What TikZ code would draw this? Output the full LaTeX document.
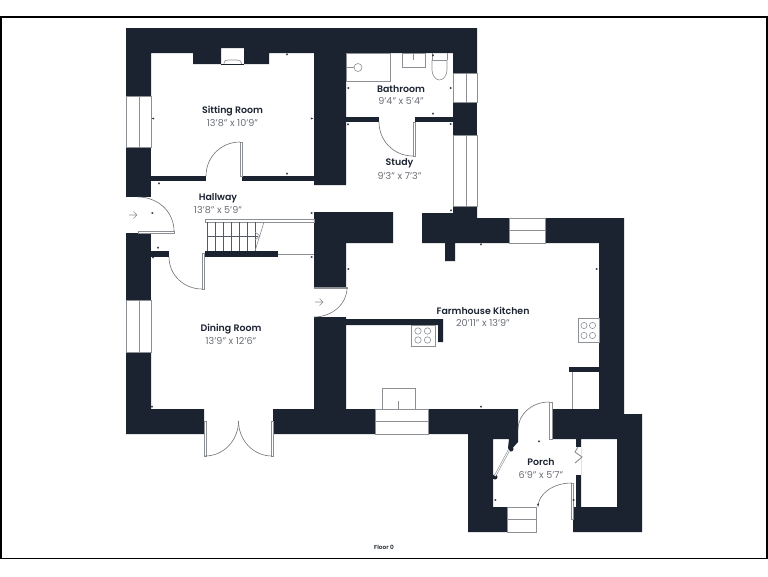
\documentclass[tikz,border=0pt]{standalone}
\usepackage{fontspec}
\setmainfont[BoldFont={Poppins SemiBold}]{Poppins}
\definecolor{wallc}{HTML}{1B2330}
\definecolor{linec}{HTML}{8C8F93}
\definecolor{dimc}{HTML}{6A6E75}
\tikzset{
  wall/.style={fill=wallc,draw=none},
  thin line/.style={draw=linec,line width=0.6pt},
  leaf/.style={draw=linec,fill=white,line width=0.6pt},
  swing/.style={draw=linec!80!black,line width=0.6pt},
  fixture/.style={draw=linec,line width=0.9pt,fill=white},
  roomname/.style={font=\fontsize{9.4}{11}\selectfont\bfseries,text=wallc,inner sep=0pt},
  roomdim/.style={font=\fontsize{9.6}{11}\selectfont,text=dimc,inner sep=0pt},
  tick/.style={fill=wallc,draw=none}
}
\begin{document}
\begin{tikzpicture}[x=1pt,y=-1pt]
\useasboundingbox (0,0) rectangle (768,576);
\fill[white] (0,0) rectangle (768,576);
% frame
\draw[black,line width=1.8pt] (0.9,17) rectangle (767.1,558.5);
% walls
\fill[wall] (126,28) -- (477,28) -- (477,73) -- (453,73) -- (453,53) -- (346,53) -- (346,185) -- (314,185) -- (314,53) -- (269,53) -- (269,64) -- (244,64) -- (244,48) -- (221,48) -- (221,64) -- (193,64) -- (193,53) -- (151,53) -- (151,96) -- (126,96) -- cycle;
\fill[wall] (126,147) rectangle (151,197);
\fill[wall] (151,176) rectangle (206,181);
\fill[wall] (242,176) rectangle (314,181);
\fill[wall] (346,117) rectangle (379,122);
\fill[wall] (415,117) rectangle (453,122);
\fill[wall] (453,102) rectangle (477,135);
\fill[wall] (126,233) rectangle (151,300);
\fill[wall] (151,251) rectangle (169,257);
\fill[wall] (205,251) rectangle (278,257);
\fill[wall] (126,352) -- (151,352) -- (151,409) -- (204,409) -- (204,434) -- (126,434) -- cycle;
\fill[wall] (314,212) -- (393,212) -- (393,243) -- (346,243) -- (346,287) -- (314,287) -- cycle;
\fill[wall] (273,409) -- (314,409) -- (314,317) -- (346,317) -- (346,409) -- (375,409) -- (375,434) -- (273,434) -- cycle;
\fill[wall] (422,213) -- (453,213) -- (453,206) -- (477,206) -- (477,218) -- (509,218) -- (509,243) -- (455,243) -- (455,261) -- (445,261) -- (445,243) -- (422,243) -- cycle;
\fill[wall] (545,218) -- (624,218) -- (624,414) -- (642,414) -- (642,532) -- (573,532) -- (573,507) -- (617,507) -- (617,439) -- (581,439) -- (581,507) -- (576,507) -- (576,475) -- (581,475) -- (581,439) -- (553,439) -- (553,409) -- (599,409) -- (599,243) -- (545,243) -- cycle;
\fill[wall] (576,439) rectangle (581,447);
\fill[wall] (428,409) -- (518,409) -- (518,439) -- (518,442) -- (510,451) -- (508,448) -- (509,439) -- (493,439) -- (493,507) -- (507,507) -- (507,532) -- (468,532) -- (468,434) -- (428,434) -- cycle;
\fill[wall] (346,319) -- (443,319) -- (443,342) -- (438,342) -- (438,325) -- (346,325) -- cycle;
\fill[wall] (569,367) rectangle (599,372);
\fill[wall] (511,449) circle (2.5);
\fill[wall] (495,477) circle (2.5);
% windows
\draw[thin line] (126,96) rectangle (151,147) (139,96) -- (139,147);
\draw[thin line] (126,300) rectangle (151,352) (139,300) -- (139,352);
\draw[thin line] (453,73) rectangle (477,102) (466,73) -- (466,102);
\draw[thin line] (453,135) rectangle (477,206) (466,135) -- (466,206);
\draw[thin line] (509,218) rectangle (545,243) (509,230.5) -- (545,230.5);
\draw[thin line] (375,409) rectangle (428,434) (375,421.5) -- (428,421.5);
\draw[thin line] (507,507) rectangle (536,532) (507,519.5) -- (536,519.5);
% doors
\draw[leaf] (240,142) rectangle (242,176);
\draw[swing] (206,176) .. controls (206,157) and (221,142) .. (240,142);
\draw[leaf] (413,122) rectangle (415,156);
\draw[swing] (379,122) .. controls (379,141) and (394,156) .. (413,156);
\draw[leaf] (138,231) rectangle (174,233);
\draw[swing] (138,197) .. controls (158,197) and (174,212) .. (174,231);
\draw[leaf] (202,253) rectangle (204,289);
\draw[swing] (169,257) .. controls (169,275) and (184,289) .. (202,289);
\draw[leaf] (314,287) rectangle (347,288);
\draw[swing] (347,288) .. controls (347,304) and (332,317) .. (314,317);
\draw[leaf] (204,421) rectangle (206,456);
\draw[leaf] (271,421) rectangle (273,456);
\draw[swing] (205,456) .. controls (224,456) and (238.5,440) .. (238.5,421);
\draw[swing] (272,456) .. controls (253,456) and (238.5,440) .. (238.5,421);
\draw[leaf] (549,402) rectangle (552,439);
\draw[swing] (549,402) .. controls (532,402) and (518,414) .. (518,430);
\draw[leaf] (571.5,483) rectangle (573,519);
\draw[swing] (571.5,483) .. controls (553,483) and (538,494) .. (538,507);
\draw[line width=2pt,linec] (509,450) -- (495,476);
\draw[line width=0.8pt,white] (509,450) -- (495,476);
% zigzag
\draw[linec,line width=0.9pt] (578,447) -- (575,452) -- (582,457) -- (575,463);
% entrance arrows
\draw[linec,line width=0.6pt] (129,215) -- (137,215) (133.5,211.5) -- (137,215) -- (133.5,218.5);
\draw[linec,line width=0.6pt] (315,302) -- (323,302) (319.5,298.5) -- (323,302) -- (319.5,305.5);
% stairs
\draw[leaf] (205,219) rectangle (314,222);
\draw[thin line] (278,254) -- (314,254);
\foreach \x in {207,215,223,231,239,247,255} \draw[draw=wallc!75,line width=0.6pt] (\x,222) -- (\x,251);
\draw[draw=wallc!75,line width=0.6pt] (207,236) -- (258,236);
\draw[linec,line width=0.6pt] (264,222) -- (255,251);
\draw[linec,line width=0.6pt] (255,232) -- (260,236) -- (255,240);
% fixtures
\draw[fixture] (346,53) rectangle (390,81);
\draw[thin line] (346,67) -- (354,67);
\draw[thin line] (358,67.5) circle (4);
\draw[fixture] (402,53) rectangle (425,67);
\draw[thin line] (413,53) -- (413,60);
\draw[thin line] (432,53) -- (432,60) (447,53) -- (447,60) (432,60) -- (447,60);
\draw[thin line] (432,60) -- (432,70) .. controls (432,76) and (436,80) .. (439.5,80) .. controls (443,80) and (447,76) .. (447,70) -- (447,60);
\draw[fixture] (411,325) rectangle (435,346);
\foreach \x/\y in {418/331,427.5/331,418/340,427.5/340} \draw[thin line] (\x,\y) circle (3.2);
\draw[fixture] (578,318) rectangle (599,342);
\foreach \x/\y in {584/325.5,592.5/325.5,584/335.5,592.5/335.5} \draw[thin line] (\x,\y) circle (3.1);
\draw[fixture] (382,388) rectangle (415,409);
\draw[thin line] (398,401) -- (398,409);
\draw[thin line] (572,372) -- (572,409);
% fireplace
\draw[thin line] (224,64) .. controls (224,60) and (226,60) .. (229,60) -- (237,60) .. controls (240,60) and (241,61) .. (242,64);
\draw[wallc,line width=0.6pt] (221,64) -- (244,64);
% dimension ticks
\foreach \x/\y in {287/54,433/55,481/244,159/183,539/441,451/210,348/124,153/257}
  \fill[tick] (\x-1,\y+1.2) -- (\x+1,\y+1.2) -- (\x,\y-1.2) -- cycle;
\foreach \x/\y in {287/174,433/114,158/248,152/407,481/407,538/505}
  \fill[tick] (\x-1,\y-1.2) -- (\x+1,\y-1.2) -- (\x,\y+1.2) -- cycle;
\foreach \x/\y in {153/118.5,348/88,152/213,348/269,495/500}
  \fill[tick] (\x+1.2,\y-1) -- (\x+1.2,\y+1) -- (\x-1.2,\y) -- cycle;
\foreach \x/\y in {312/118.5,451/88,451/124,312/213,312/257,597/269,574/500}
  \fill[tick] (\x-1.2,\y-1) -- (\x-1.2,\y+1) -- (\x+1.2,\y) -- cycle;
% labels
\node[roomname] (n1) at (232.5,110.6) {Sitting Room};
\node[roomdim] (d1) at (232.5,123) {13'8'' x 10'9''};
\node[roomname] (n2) at (401,88.6) {Bathroom};
\node[roomdim] (d2) at (401,100.5) {9'4'' x 5'4''};
\node[roomname] (n3) at (399.5,163.6) {Study};
\node[roomdim] (d3) at (399.5,176) {9'3'' x 7'3''};
\node[roomname] (n4) at (218,198.6) {Hallway};
\node[roomdim] (d4) at (218,210.5) {13'8'' x 5'9''};
\node[roomname] (n5) at (231,328.6) {Dining Room};
\node[roomdim] (d5) at (231,341) {13'9'' x 12'6''};
\node[roomname] (n6) at (483,310.6) {Farmhouse Kitchen};
\node[roomdim] (d6) at (483,323) {20'11'' x 13'9''};
\node[roomname] (n7) at (541,462) {Porch};
\node[roomdim] (d7) at (541,474.5) {6'9'' x 5'7''};
\node[font=\fontsize{5.8}{7}\selectfont\bfseries,text=wallc,inner sep=0pt] (f) at (384,547) {Floor 0};
\end{tikzpicture}
\end{document}
